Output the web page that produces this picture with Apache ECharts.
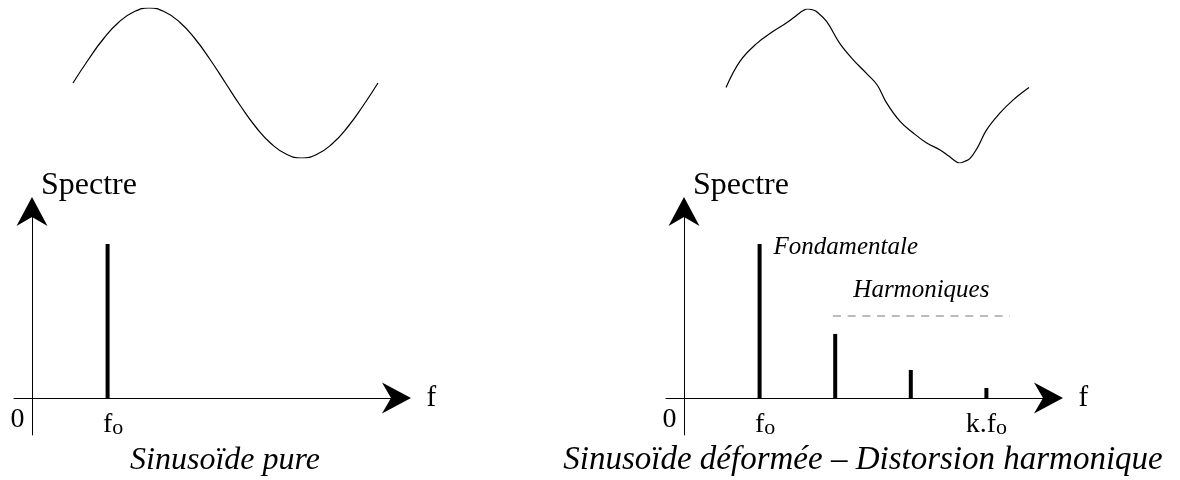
<!DOCTYPE html>
<html>
<head>
<meta charset="utf-8">
<title>Spectre</title>
<script src="https://cdn.jsdelivr.net/npm/echarts@6/dist/echarts.min.js"></script>
<style>
  html, body { margin: 0; padding: 0; background: #fff; }
  #chart { width: 1180px; height: 480px; }
</style>
</head>
<body>
<div id="chart"></div>
<script>
// signal du haut : temps (ms) / amplitude normalisée
const pureT = [0, 1, 2, 3, 4, 5, 6, 7, 8, 9, 10, 11, 12, 13, 14, 15, 16, 17, 18, 19, 20];
const pureA = [0, 0.31, 0.59, 0.81, 0.95, 1, 0.95, 0.81, 0.59, 0.31, 0, -0.31, -0.59, -0.81, -0.95, -1, -0.95, -0.81, -0.59, -0.31, 0];

const distT = [0, 0.92, 2.02, 3.12, 4.0, 4.67, 5.1, 5.39, 5.7, 5.99, 6.65, 7.52, 8.4, 9.29, 9.99,
  10.6, 11.49, 12.36, 13.25, 14.13, 14.7, 15.1, 15.4, 15.75, 16.11, 16.6, 17.2, 18.09, 18.96, 20];
const distA = [-0.02, 0.32, 0.55, 0.71, 0.82, 0.92, 0.98, 1.0, 0.99, 0.965, 0.835, 0.55, 0.34, 0.16, 0.01,
  -0.22, -0.46, -0.61, -0.74, -0.83, -0.91, -0.97, -1.0, -0.98, -0.94, -0.8, -0.57, -0.35, -0.18, -0.02];

// spectres : rang (multiple de fo) / amplitude
const pureOrder = [1];
const pureAmp = [1];
const distOrder = [1, 2, 3, 4];
const distAmp = [1, 0.416, 0.182, 0.065];

// graduations
const pureTicks = [0, 1];
const pureTickLabels = ['0', 'fo'];
const distTicks = [0, 1, 4];
const distTickLabels = ['0', 'fo', 'k.fo'];

// zone des harmoniques (rang début, rang fin, niveau)
const harmBand = [1.97, 4.31, 0.532];

const titles = ['Sinusoïde pure', 'Sinusoïde déformée – Distorsion harmonique'];

const serif = 'Liberation Serif';
const arrow = 'path://M15.5,0 L31,29 L15.5,20 L0,29 Z';

const chart = echarts.init(document.getElementById('chart'));

const pair = (xs, ys) => xs.map((x, i) => [x, ys[i]]);

const spectrumX = (grid, ticks, labels) => ({
  gridIndex: grid,
  type: 'value',
  min: -0.2381,
  max: 4.8214,
  name: 'f',
  nameLocation: 'end',
  nameGap: 30,
  nameTextStyle: { fontFamily: serif, fontSize: 29, color: '#000' },
  axisLine: {
    show: true,
    onZero: true,
    symbol: ['none', arrow],
    symbolSize: [31, 29],
    lineStyle: { color: '#000', width: 1 }
  },
  axisTick: { show: false },
  splitLine: { show: false },
  axisLabel: {
    customValues: ticks,
    margin: -29,
    formatter: function (v) {
      const s = labels[ticks.indexOf(v)];
      if (s === '0') return '{z|0}';
      if (s === 'fo') return '{p|f}{s|o}';
      return '{b|' + s.slice(0, -1) + '}{s|o}';
    },
    rich: {
      z: { fontFamily: serif, fontSize: 28, color: '#000', padding: [0, 29, 0, 0] },
      p: { fontFamily: serif, fontSize: 28, color: '#000', verticalAlign: 'bottom', padding: [5, 0, 0, 11] },
      b: { fontFamily: serif, fontSize: 28, color: '#000', verticalAlign: 'bottom', padding: [5, 0, 0, 0] },
      s: { fontFamily: serif, fontSize: 22, color: '#000', verticalAlign: 'bottom', padding: [5, 0, 0, 0] }
    }
  }
});

const spectrumY = (grid) => ({
  gridIndex: grid,
  type: 'value',
  min: -0.2403,
  max: 1.211,
  name: 'Spectre',
  nameLocation: 'end',
  nameGap: 10,
  nameTextStyle: { fontFamily: serif, fontSize: 32, color: '#000', align: 'left', padding: [0, 0, 0, 9] },
  axisLine: {
    show: true,
    onZero: true,
    symbol: ['none', arrow],
    symbolSize: [31, 29],
    lineStyle: { color: '#000', width: 1 }
  },
  axisTick: { show: false },
  splitLine: { show: false },
  axisLabel: { show: false }
});

const waveX = (grid) => ({ gridIndex: grid, type: 'value', min: 0, max: 20, show: false });
const waveY = (grid) => ({ gridIndex: grid, type: 'value', min: -1, max: 1, show: false });

const titleStyle = (size) => ({ fontFamily: serif, fontStyle: 'italic', fontWeight: 'normal', fontSize: size, color: '#000' });

const option = {
  animation: false,
  title: [
    { text: titles[0], left: 225, top: 445, textAlign: 'center', padding: 0, textStyle: titleStyle(32) },
    { text: titles[1], left: 863, top: 444, textAlign: 'center', padding: 0, textStyle: titleStyle(33) }
  ],
  grid: [
    { left: 73, top: 8, width: 305, height: 150 },
    { left: 14, top: 211.5, width: 382.5, height: 223.5 },
    { left: 726, top: 9, width: 303, height: 154 },
    { left: 666, top: 211.5, width: 382.5, height: 223.5 }
  ],
  xAxis: [waveX(0), spectrumX(1, pureTicks, pureTickLabels), waveX(2), spectrumX(3, distTicks, distTickLabels)],
  yAxis: [waveY(0), spectrumY(1), waveY(2), spectrumY(3)],
  series: [
    {
      type: 'line', xAxisIndex: 0, yAxisIndex: 0,
      data: pair(pureT, pureA), smooth: true, showSymbol: false,
      lineStyle: { color: '#000', width: 1.2 }
    },
    {
      type: 'bar', xAxisIndex: 1, yAxisIndex: 1,
      data: pair(pureOrder, pureAmp), barWidth: 4,
      itemStyle: { color: '#000' }
    },
    {
      type: 'line', xAxisIndex: 2, yAxisIndex: 2,
      data: pair(distT, distA), smooth: 0.4, showSymbol: false,
      lineStyle: { color: '#000', width: 1.2 }
    },
    {
      type: 'bar', xAxisIndex: 3, yAxisIndex: 3,
      data: pair(distOrder, distAmp).map((d, i) => i === 0 ? {
        value: d,
        label: {
          show: true,
          position: [16, -9],
          formatter: 'Fondamentale',
          fontFamily: serif, fontStyle: 'italic', fontSize: 25, color: '#000'
        }
      } : d),
      barWidth: 4,
      itemStyle: { color: '#000' },
      markLine: {
        silent: true,
        symbol: 'none',
        lineStyle: { type: [8, 6.7], color: '#bbb', width: 2 },
        label: {
          show: true,
          position: 'middle',
          distance: 13,
          formatter: 'Harmoniques',
          fontFamily: serif, fontStyle: 'italic', fontSize: 25, color: '#000'
        },
        data: [[{ coord: [harmBand[0], harmBand[2]] }, { coord: [harmBand[1], harmBand[2]] }]]
      }
    }
  ]
};

chart.setOption(option);
</script>
</body>
</html>
